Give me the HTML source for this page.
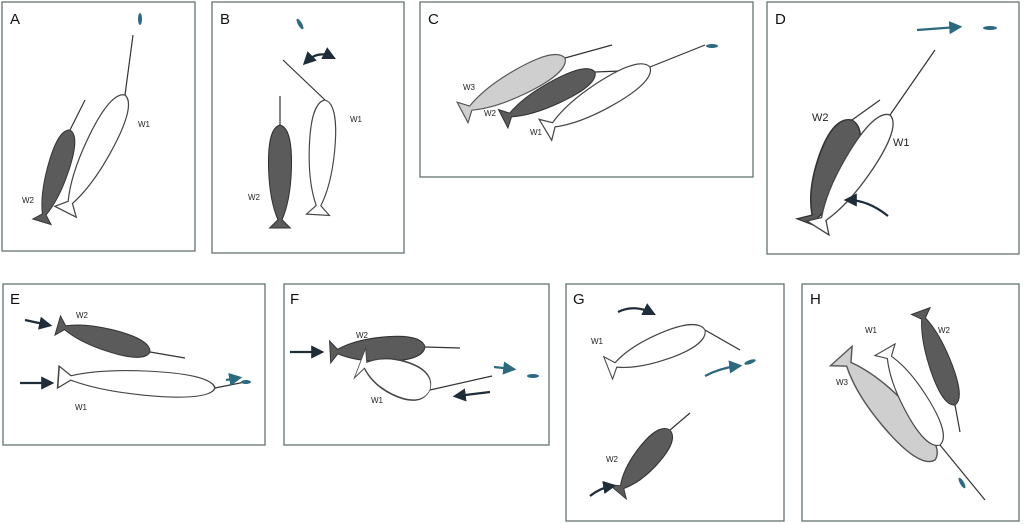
<!DOCTYPE html>
<html><head><meta charset="utf-8"><style>
html,body{margin:0;padding:0;background:#fff;}
svg{display:block;}
text{font-family:"Liberation Sans",sans-serif;font-size:8px;fill:#222;}
.p{fill:#fff;stroke:#5a6666;stroke-width:1.2;}
.dk{fill:#5b5b5b;stroke:#333;stroke-width:1;vector-effect:non-scaling-stroke;}
.wh{fill:#fff;stroke:#444;stroke-width:1;vector-effect:non-scaling-stroke;}
.lg{fill:#cfcfcf;stroke:#555;stroke-width:1;vector-effect:non-scaling-stroke;}
.t{stroke:#333;stroke-width:1.2;}
.L{font-size:15px;fill:#111;}
.ab{stroke:#1f2d3a;stroke-width:2.2;fill:none;}
.bl{stroke:#2d6a80;stroke-width:2.2;fill:none;}
.fish{fill:#2d6a80;}
</style></head><body>
<svg width="1024" height="524" viewBox="0 0 1024 524">
<defs>
<path id="w" d="M0,0 C9,2 12,20 11,45 C10,70 5,85 2,92 L10,100 L-10,100 L-2,92 C-5,85 -10,70 -11,45 C-12,20 -9,2 0,0 Z"/>
<marker id="ma" markerWidth="6" markerHeight="6" refX="4" refY="3" orient="auto-start-reverse"><path d="M0,0 L6,3 L0,6 Z" fill="#1f2d3a"/></marker>
<marker id="mb" markerWidth="6" markerHeight="6" refX="4" refY="3" orient="auto"><path d="M0,0 L6,3 L0,6 Z" fill="#2d6a80"/></marker>
</defs>
<rect class="p" x="2" y="2" width="193" height="249"/>
<rect class="p" x="212" y="2" width="192" height="251"/>
<rect class="p" x="420" y="2" width="333" height="175"/>
<rect class="p" x="767" y="2" width="252" height="252"/>
<rect class="p" x="3" y="284" width="262" height="161"/>
<rect class="p" x="284" y="284" width="265" height="161"/>
<rect class="p" x="566" y="284" width="218" height="237"/>
<rect class="p" x="802" y="284" width="217" height="237"/>
<text class="L" x="10" y="24">A</text><text class="L" x="220" y="24">B</text>
<text class="L" x="428" y="24">C</text><text class="L" x="775" y="24">D</text>
<text class="L" x="10" y="304">E</text><text class="L" x="290" y="304">F</text>
<text class="L" x="573" y="304">G</text><text class="L" x="810" y="304">H</text>

<!-- A -->
<line class="t" x1="70" y1="130" x2="85" y2="100"/>
<use href="#w" class="dk" transform="translate(70,130) rotate(17) scale(0.96)"/>
<line class="t" x1="125" y1="95" x2="133" y2="35"/>
<use href="#w" class="wh" transform="translate(125,95) rotate(27) scale(1.2,1.31)"/>
<ellipse class="fish" cx="140" cy="19" rx="2" ry="6"/>
<text x="138" y="127">W1</text><text x="22" y="203">W2</text>

<!-- B -->
<line class="t" x1="280" y1="125" x2="280" y2="96"/>
<use href="#w" class="dk" transform="translate(280,125) scale(1.03)"/>
<line class="t" x1="325" y1="100" x2="283" y2="60"/>
<use href="#w" class="wh" transform="translate(325,100) rotate(3.5) scale(1.15)"/>
<path d="M306,62 Q318,50 332,57" class="ab" marker-end="url(#ma)" marker-start="url(#ma)"/>
<ellipse class="fish" cx="300" cy="24" rx="2" ry="6" transform="rotate(-30 300 24)"/>
<text x="350" y="122">W1</text><text x="248" y="200">W2</text>

<!-- C -->
<line class="t" x1="565" y1="58" x2="612" y2="45"/>
<use href="#w" class="lg" transform="translate(565,58) rotate(62) scale(1.16)"/>
<line class="t" x1="595" y1="72" x2="645" y2="70"/>
<use href="#w" class="dk" transform="translate(595,72) rotate(63) scale(1.03)"/>
<line class="t" x1="650" y1="67" x2="705" y2="45"/>
<use href="#w" class="wh" transform="translate(650,67) rotate(59) scale(1.22)"/>
<ellipse class="fish" cx="712" cy="46" rx="6" ry="2"/>
<text x="463" y="90">W3</text><text x="484" y="116">W2</text><text x="530" y="135">W1</text>

<!-- D -->
<line class="t" x1="852" y1="120" x2="880" y2="100"/>
<use href="#w" class="dk" transform="translate(852,120) rotate(21) scale(1.6,1.12)"/>
<line class="t" x1="890" y1="115" x2="935" y2="50"/>
<use href="#w" class="wh" transform="translate(890,115) rotate(32.5) scale(1.3,1.34)"/>
<line x1="917" y1="30" x2="958" y2="27" class="bl" marker-end="url(#mb)"/>
<ellipse class="fish" cx="990" cy="28" rx="7" ry="2"/>
<path d="M888,216 Q868,200 848,200" class="ab" stroke-width="3" marker-end="url(#ma)"/>
<text x="812" y="121" style="font-size:11px">W2</text><text x="893" y="146" style="font-size:11px">W1</text>

<!-- E -->
<line class="t" x1="150" y1="352" x2="185" y2="358"/>
<use href="#w" class="dk" transform="translate(150,352) rotate(106) scale(1.0,0.96)"/>
<line class="t" x1="215" y1="388" x2="245" y2="382"/>
<use href="#w" class="wh" transform="translate(215,388) rotate(94) scale(1.1,1.57)"/>
<line x1="25" y1="320" x2="48" y2="325" class="ab" marker-end="url(#ma)"/>
<line x1="20" y1="383" x2="50" y2="383" class="ab" marker-end="url(#ma)"/>
<line x1="226" y1="380" x2="238" y2="378" class="bl" marker-end="url(#mb)"/>
<ellipse class="fish" cx="246" cy="382" rx="5" ry="2"/>
<text x="76" y="318">W2</text><text x="75" y="410">W1</text>

<!-- F -->
<line class="t" x1="425" y1="347" x2="460" y2="348"/>
<use href="#w" class="dk" transform="translate(425,347) rotate(87) scale(1.1,0.95)"/>
<line class="t" x1="430" y1="390" x2="492" y2="376"/>
<use href="#w" class="wh" transform="translate(430,390) rotate(111) scale(1.6,0.75)"/>
<line x1="290" y1="352" x2="320" y2="352" class="ab" marker-end="url(#ma)"/>
<line x1="490" y1="392" x2="457" y2="396" class="ab" marker-end="url(#ma)"/>
<line x1="494" y1="367" x2="512" y2="369" class="bl" marker-end="url(#mb)"/>
<ellipse class="fish" cx="533" cy="376" rx="6" ry="2"/>
<text x="356" y="338">W2</text><text x="371" y="403">W1</text>

<!-- G -->
<line class="t" x1="705" y1="330" x2="740" y2="350"/>
<use href="#w" class="wh" transform="translate(705,330) rotate(68.6) scale(1.2,1.04)"/>
<line class="t" x1="670" y1="430" x2="690" y2="413"/>
<use href="#w" class="dk" transform="translate(670,430) rotate(40) scale(1.1,0.81)"/>
<path d="M618,312 Q634,304 652,313" class="ab" marker-end="url(#ma)"/>
<path d="M590,496 Q600,488 612,486" class="ab" marker-end="url(#ma)"/>
<path d="M705,376 Q720,368 738,366" class="bl" marker-end="url(#mb)"/>
<ellipse class="fish" cx="750" cy="362" rx="6" ry="2" transform="rotate(-20 750 362)"/>
<text x="591" y="344">W1</text><text x="606" y="462">W2</text>

<!-- H -->
<use href="#w" class="lg" transform="translate(935,460) rotate(138) scale(1.45,1.4)"/>
<line class="t" x1="940" y1="445" x2="985" y2="500"/>
<use href="#w" class="wh" transform="translate(940,445) rotate(150) scale(1.16,1.1)"/>
<line class="t" x1="955" y1="405" x2="960" y2="432"/>
<use href="#w" class="dk" transform="translate(955,405) rotate(160) scale(0.99,1.0)"/>
<ellipse class="fish" cx="962" cy="483" rx="2" ry="6" transform="rotate(-30 962 483)"/>
<text x="865" y="333">W1</text><text x="938" y="333">W2</text><text x="836" y="385">W3</text>
</svg>
</body></html>
